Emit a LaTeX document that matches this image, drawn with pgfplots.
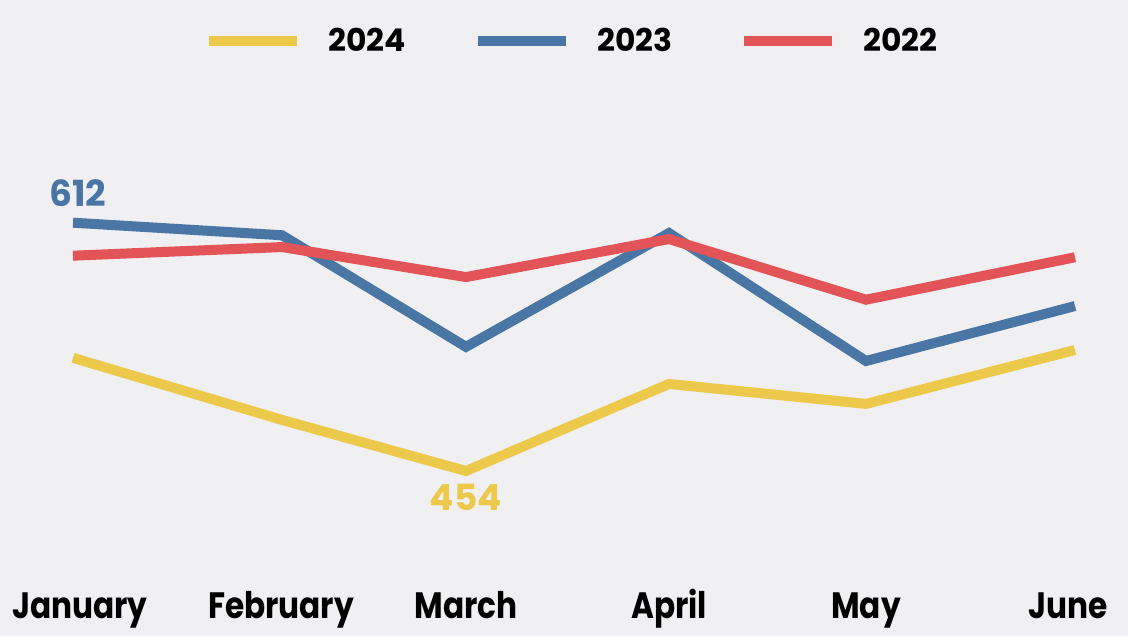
\documentclass[border=0pt]{standalone}
\usepackage{pgfplots}
\pgfplotsset{compat=1.18}
\usepackage{fontspec}
\setmainfont{Poppins}
\newfontfamily\popc{Poppins}[FakeStretch=0.85]
\definecolor{bg}{HTML}{F0F0F2}
\definecolor{cyel}{HTML}{ECC94B}
\definecolor{cblu}{HTML}{4A76A5}
\definecolor{cred}{HTML}{E25458}
\begin{document}
\begin{tikzpicture}
\begin{axis}[
  width=846pt, height=477pt, scale only axis,
  xmin=0, xmax=1128, ymin=349.0, ymax=753.71,
  axis background/.style={fill=bg},
  axis line style={draw=none},
  ytick=\empty,
  xtick={80,281,466,669,866,1068},
  xticklabels={January,February,March,April,May,June},
  major tick length=0pt,
  xticklabel style={anchor=base, yshift=13.5pt, font=\popc\fontsize{27.5}{27.5}\selectfont\bfseries, text=black},
  clip=false,
  legend columns=3,
  legend style={at={(rel axis cs:0.506,0.9355)}, anchor=center, draw=none, fill=none,
    font=\fontsize{23.5}{23.5}\selectfont\bfseries,
    nodes={inner sep=0pt, anchor=west},
    /tikz/every odd column/.append style={column sep=20pt},
    /tikz/every even column/.append style={column sep=50pt}},
  legend image code/.code={\draw[#1, line width=7.5pt] (0pt,0pt) -- (66pt,0pt);},
  every axis plot/.append style={line width=7.5pt, line join=miter, line cap=butt},
]
\addplot[cyel] coordinates {(73,526) (282,486.5) (466,454) (669,509.4) (866,496.7) (1075,531)};
\addlegendentry{2024}
\addplot[cblu] coordinates {(73,612) (282,604) (466,533) (669,605.4) (866,524) (1075,559)};
\addlegendentry{2023}
\addplot[cred] coordinates {(73,591) (282,596.5) (466,577.4) (669,601.6) (866,563) (1075,590)};
\addlegendentry{2022}
\node[anchor=base, text=cblu, font=\fontsize{27}{27}\selectfont\bfseries] at (axis cs:78,622.6) {612};
\node[anchor=base, text=cyel, font=\fontsize{27}{27}\selectfont\bfseries] at (axis cs:466,428.55) {454};
\end{axis}
\pgfresetboundingbox
\path[use as bounding box] (current axis.south west) rectangle (current axis.north east);
\end{tikzpicture}
\end{document}
